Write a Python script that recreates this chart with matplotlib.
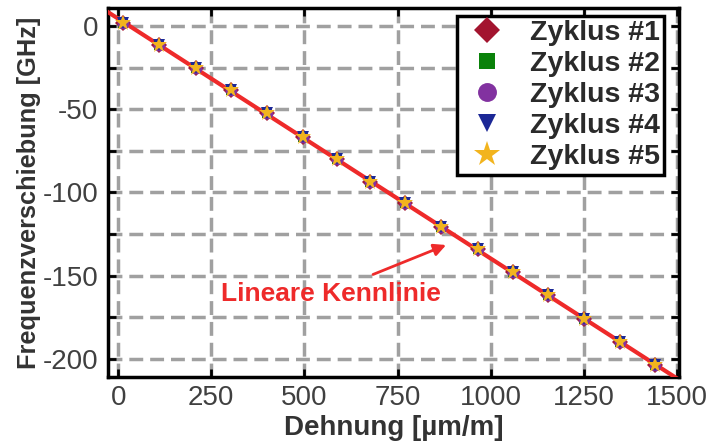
import matplotlib.pyplot as plt
import numpy as np
from matplotlib.ticker import MultipleLocator

plt.rcParams['font.family'] = ['Liberation Sans', 'DejaVu Sans']
plt.rcParams['axes.unicode_minus'] = False

# Dehnung [µm/m] und Frequenzverschiebung [GHz], fuer alle Zyklen gleich
dehnung = [13, 110, 210, 304, 400, 495, 586, 677, 771, 866, 965, 1059, 1153, 1250, 1347, 1441]
frequenz = [1.8, -11.4, -25.3, -38.6, -52.4, -66.9, -80.1, -94.0, -106.6, -121.0,
            -134.0, -148.0, -162.0, -176.0, -190.0, -203.6]

zyklen = ['Zyklus #1', 'Zyklus #2', 'Zyklus #3', 'Zyklus #4', 'Zyklus #5']
marker = ['D', 's', 'o', 'v', '*']
farben = ['#a3142f', '#0a820a', '#8232a0', '#1c2896', '#f2b41e']
groesse = [8.5, 7.5, 8.5, 8.5, 12]

x_ticks = [0, 250, 500, 750, 1000, 1250, 1500]
y_ticks = [0, -50, -100, -150, -200]

fig = plt.figure(figsize=(7.11, 4.46), dpi=100)
ax = fig.add_axes([0.152, 0.155, 0.803, 0.827])

xlim = (-27, 1505)
ylim = (-211, 11)

# lineare Kennlinie aus den Messpunkten
m, b = np.polyfit(dehnung, frequenz, 1)
xl = np.array(xlim)
ax.plot(xl, m * xl + b, color='#ee2a2a', lw=3, zorder=3)

for name, mk, c, s in zip(zyklen, marker, farben, groesse):
    ax.plot(dehnung, frequenz, linestyle='none', marker=mk, color=c,
            markersize=s, markeredgewidth=0, label=name, zorder=4)

ax.set_xlim(xlim)
ax.set_ylim(ylim)
ax.set_xticks(x_ticks)
ax.set_yticks(y_ticks)
ax.yaxis.set_minor_locator(MultipleLocator(25))

ax.grid(True, which='both', color='#a0a0a0', linestyle=(0, (4, 2)), linewidth=2.5, zorder=0)
ax.set_axisbelow(True)

ax.tick_params(which='both', direction='in', top=True, right=True, length=6, width=2,
               labelsize=20, labelcolor='#404040')
ax.tick_params(axis='y', pad=7)
ax.tick_params(axis='x', pad=6)
for sp in ax.spines.values():
    sp.set_linewidth(2.5)

ax.set_xlabel('Dehnung [µm/m]', fontsize=20, fontweight='bold', color='#333333', labelpad=3)
ax.set_ylabel('Frequenzverschiebung [GHz]', fontsize=18.3, fontweight='bold', color='#333333', labelpad=1)

ax.text(570, -161, 'Lineare Kennlinie', fontsize=19, fontweight='bold', color='#ee2a2a',
        ha='center', va='center')
ax.annotate('', xy=(887, -131), xytext=(677, -150),
            arrowprops=dict(arrowstyle='-|>', color='#ee2a2a', lw=2, mutation_scale=18))

leg = ax.legend(loc='upper right', bbox_to_anchor=(0.984, 0.995),
                prop={'weight': 'bold', 'size': 20.5}, fancybox=False, framealpha=1,
                edgecolor='black', handletextpad=0.6, borderpad=0.15, labelspacing=0.18,
                markerscale=1.6, handlelength=1.8, borderaxespad=0.2)
leg.get_frame().set_linewidth(2.5)
for t in leg.get_texts():
    t.set_color('#2a2a2a')

fig.savefig('out.png', dpi=100)
